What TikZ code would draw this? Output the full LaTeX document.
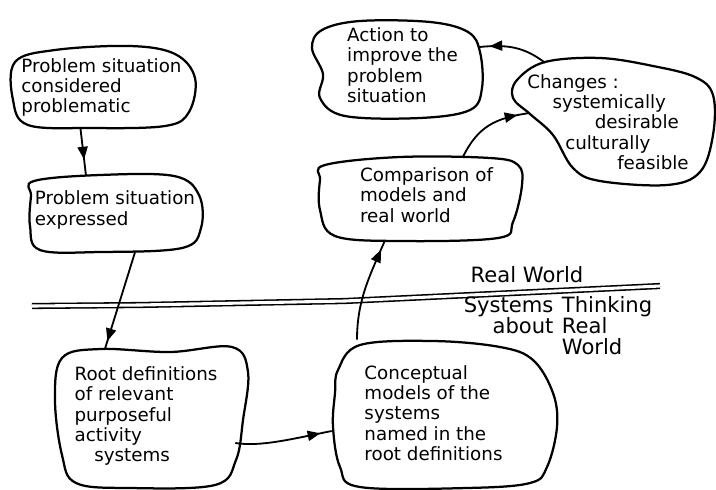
\documentclass[tikz,border=0pt]{standalone}
\usepackage{fontspec}
\setmainfont{DejaVu Sans}
\usetikzlibrary{arrows}
\usetikzlibrary{decorations.markings}
\tikzset{
  blob/.style={line width=1.6pt, line join=round},
  stage/.style={inner sep=0pt, align=left, font=\fontsize{13}{14.5}\selectfont},
  side/.style={inner sep=0pt, font=\fontsize{15}{15}\selectfont},
  flow/.style={line width=1.3pt, postaction={decorate},
    decoration={markings,mark=at position #1 with {\arrow[black,scale=0.9]{triangle 45}}}},
  flow/.default=0.85,
  divider/.style={double, line width=1.1pt, double distance=2.2pt, line join=round}
}
\begin{document}
\begin{tikzpicture}[x=0.025cm, y=-0.025cm]
    \useasboundingbox (0,0) rectangle (716,489);

    \node[stage, minimum width=4.6cm, minimum height=2.05cm] (psc) at (101.5,87.5) {Problem situation\\considered\\problematic};
    \node[stage, minimum width=4cm, minimum height=1.95cm] (pse) at (115,210) {Problem situation\\expressed};
    \node[stage, minimum width=4.8cm, minimum height=3.5cm] (rd) at (146,416) {Root definitions\\of relevant\\purposeful\\activity\\\hspace*{14pt}systems};
    \node[stage, minimum width=5.6cm, minimum height=3.65cm] (cm) at (433.5,413) {Conceptual\\models of the\\systems\\named in the\\root definitions};
    \node[stage, minimum width=5.1cm, minimum height=2.1cm] (cmp) at (426.5,195) {Comparison of\\models and\\real world};
    \node[stage, minimum width=5cm, minimum height=3.1cm] (chg) at (608,122) {Changes :\\\hspace*{18pt}systemically\\\hspace*{48pt}desirable\\\hspace*{27pt}culturally\\\hspace*{64pt}feasible};
    \node[stage, minimum width=4.25cm, minimum height=2.45cm] (act) at (402.5,65) {Action to\\improve the\\problem\\situation};

    % outlines
    \draw[blob] plot[smooth cycle, tension=0.6] coordinates {(15,62) (55,50) (130,46) (175,54) (195,78) (189,112) (165,126) (90,128) (28,125) (13,100)};
    \draw[blob] plot[smooth cycle, tension=0.6] coordinates {(34,181) (100,175) (174,176) (199,195) (201,228) (182,248) (100,252) (40,250) (30,226) (31,196)};
    \draw[blob] plot[smooth cycle, tension=0.6] coordinates {(62,358) (100,349) (170,352) (232,347) (248,372) (243,420) (236,460) (215,485) (130,488) (76,483) (62,455) (55,400)};
    \draw[blob] plot[smooth cycle, tension=0.6] coordinates {(338,370) (360,345) (433,341) (500,347) (533,360) (553,393) (557,427) (547,467) (530,483) (467,488) (360,487) (340,467) (333,427) (335,393)};
    \draw[blob] plot[smooth cycle, tension=0.6] coordinates {(325,165) (400,157) (490,158) (518,165) (522,185) (513,222) (498,238) (400,241) (335,236) (320,210) (320,180)};
    \draw[blob] plot[smooth cycle, tension=0.6] coordinates {(517,80) (545,62) (600,58) (653,66) (695,77) (713,95) (713,135) (700,172) (667,185) (600,181) (573,168) (553,135) (530,114) (513,98)};
    \draw[blob] plot[smooth cycle, tension=0.6] coordinates {(322,30) (360,21) (430,22) (468,32) (480,52) (482,88) (470,110) (420,118) (345,116) (320,98) (323,74) (312,48)};

    \draw[divider] (32,306) -- (140,305) -- (345,301) -- (660,286);
    \node[side] (real) at (527,275) {Real World};
    \node[side] (think) at (558,328) {\renewcommand\arraystretch{0.8}\begin{tabular}{@{}r@{\hspace{6pt}}l@{}}Systems & Thinking\\ about & Real\\ & World\end{tabular}};

    \draw[flow=0.65] ([shift={(-21,0)}]psc.south) -- ([shift={(-29,5)}]pse.north);
    \draw[flow=0.92] ([shift={(20,3)}]pse.south) -- ([shift={(-41,3)}]rd.north);
    \draw[flow=0.88] ([shift={(-7,27)}]rd.east) .. controls +(25,4) and +(-40,8) .. ([shift={(10.5,18)}]cm.west);
    \draw[flow=0.9] ([shift={(-76.5,0)}]cm.north) .. controls +(0,-40) and +(-15,35) .. ([shift={(-41.5,3)}]cmp.south);
    \draw[flow] ([shift={(36.5,4)}]cmp.north) .. controls +(15,-30) and +(-35,5) .. ([shift={(22,-9)}]chg.west);
    \draw[flow] ([shift={(-63,3)}]chg.north) .. controls +(-20,-15) and +(30,-3) .. ([shift={(-8.5,-18)}]act.east);

\end{tikzpicture}
\end{document}
